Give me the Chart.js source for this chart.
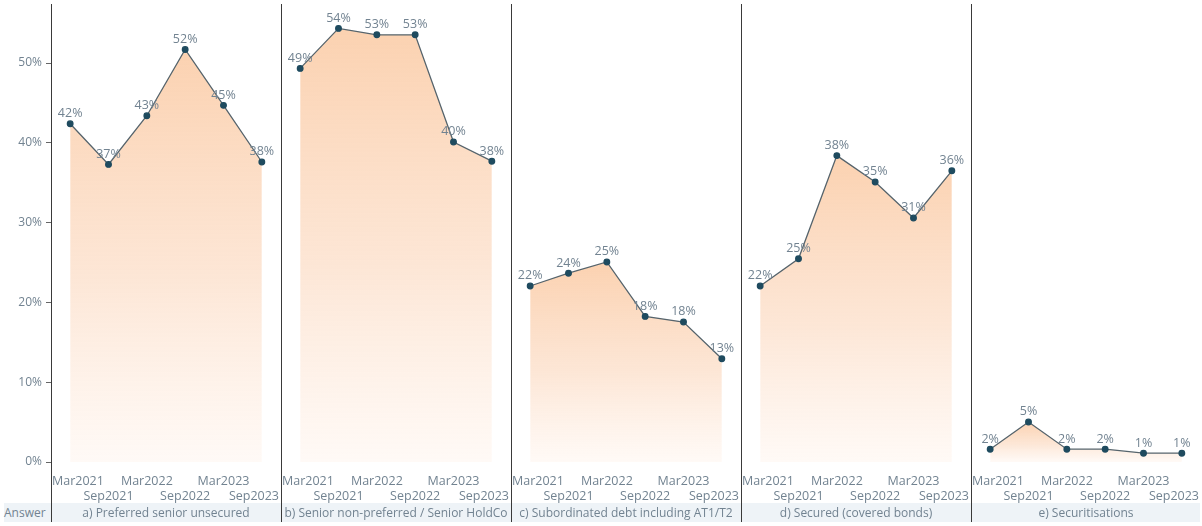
<!DOCTYPE html>
<html>
<head>
<meta charset="utf-8">
<script src="https://cdn.jsdelivr.net/npm/chart.js@4/dist/chart.umd.min.js"></script>
<style>
  body { margin: 0; background: #fff; width: 1202px; height: 526px; overflow: hidden; font-family: "Open Sans", sans-serif; }
  .wrap { position: relative; width: 1202px; height: 526px; }
  .panel { position: absolute; top: 0; height: 504px; }
  .vline { position: absolute; top: 4px; height: 518px; width: 1px; background: #3a3a3a; }
  .band { position: absolute; left: 4px; top: 503px; width: 1196px; height: 19px; background: #eef3f7; }
  .title { position: absolute; top: 503px; height: 19px; line-height: 19px; text-align: center; font-size: 12px; color: #728391; }
</style>
</head>
<body>
<div class="wrap" id="wrap">
  <div class="band"></div>
  <div class="title" style="left:4px;width:46px;text-align:left;">Answer</div>
</div>
<script>
let id = (x) => document.getElementById(x);

// ------- DATA -------
let periods = ["Mar2021", "Sep2021", "Mar2022", "Sep2022", "Mar2023", "Sep2023"];
let panelTitles = [
  "a) Preferred senior unsecured",
  "b) Senior non-preferred / Senior HoldCo",
  "c) Subordinated debt including AT1/T2",
  "d) Secured (covered bonds)",
  "e) Securitisations"
];
let preferredSenior = [42.4, 37.3, 43.4, 51.7, 44.7, 37.6];
let seniorNonPreferred = [49.2, 54.2, 53.4, 53.4, 40.0, 37.6];
let subordinated = [22.0, 23.6, 25.0, 18.2, 17.5, 12.9];
let secured = [22.0, 25.4, 38.3, 35.0, 30.5, 36.4];
let securitisations = [1.6, 5.0, 1.6, 1.6, 1.1, 1.1];
let yTicks = [0, 10, 20, 30, 40, 50];

let seriesList = [preferredSenior, seniorNonPreferred, subordinated, secured, securitisations];

// ------- LAYOUT -------
let axisWidth = 51;
let panelWidth = 230;
let lineXs = [51, 281, 511, 741, 971];
let wrap = id("wrap");
let textColor = "#728391";

lineXs.forEach(function(x){
  let d = document.createElement("div");
  d.className = "vline";
  d.style.left = x + "px";
  wrap.appendChild(d);
});

// point value labels + alternating period labels, clamped inside the panel
const labelPlugin = {
  id: "labelPlugin",
  afterDatasetsDraw(chart) {
    const ctx = chart.ctx;
    const area = chart.chartArea;
    const meta = chart.getDatasetMeta(0);
    const xs = chart.scales.x;
    ctx.save();
    ctx.font = "12.5px 'Open Sans'";
    ctx.fillStyle = textColor;
    ctx.textAlign = "center";
    ctx.textBaseline = "bottom";
    meta.data.forEach(function(pt, i){
      const v = chart.data.datasets[0].data[i];
      ctx.fillText(Math.round(v) + "%", pt.x, pt.y - 4);
    });
    ctx.textBaseline = "middle";
    chart.data.labels.forEach(function(lab, i){
      let x = xs.getPixelForValue(i);
      const w = ctx.measureText(lab).width;
      if (x - w / 2 < area.left + 1) x = area.left + 1 + w / 2;
      if (x + w / 2 > area.right - 2) x = area.right - 2 - w / 2;
      const y = area.bottom + (i % 2 === 0 ? 19 : 34);
      ctx.fillText(lab, x, y);
    });
    ctx.restore();
  }
};

function peachFill(context) {
  const chart = context.chart;
  const area = chart.chartArea;
  if (!area) return "#fbd3b4";
  const ys = chart.scales.y;
  const data = chart.data.datasets[0].data;
  const top = ys.getPixelForValue(Math.max(...data));
  const g = chart.ctx.createLinearGradient(0, top, 0, ys.getPixelForValue(0));
  g.addColorStop(0, "rgba(251,207,172,0.95)");
  g.addColorStop(0.55, "rgba(252,222,200,0.75)");
  g.addColorStop(1, "rgba(255,246,240,0.6)");
  return g;
}

seriesList.forEach(function(values, p){
  const left = p === 0 ? 0 : lineXs[p];
  const width = p === 0 ? axisWidth + panelWidth : panelWidth;
  const holder = document.createElement("div");
  holder.className = "panel";
  holder.style.left = left + "px";
  holder.style.width = width + "px";
  const cv = document.createElement("canvas");
  holder.appendChild(cv);
  wrap.appendChild(holder);

  const t = document.createElement("div");
  t.className = "title";
  t.style.left = lineXs[p] + "px";
  t.style.width = panelWidth + "px";
  t.textContent = panelTitles[p];
  wrap.appendChild(t);

  new Chart(cv, {
    type: "line",
    data: {
      labels: periods,
      datasets: [{
        data: values,
        borderColor: "#56646c",
        borderWidth: 1.3,
        pointBackgroundColor: "#1f4b5f",
        pointBorderColor: "#1f4b5f",
        pointRadius: 2.8,
        fill: "origin",
        backgroundColor: peachFill,
        tension: 0
      }]
    },
    options: {
      responsive: true,
      maintainAspectRatio: false,
      animation: false,
      layout: { autoPadding: false, padding: { top: 10, bottom: 42, left: 0, right: 0 } },
      plugins: { legend: { display: false }, tooltip: { enabled: false } },
      scales: {
        x: {
          display: false,
          offset: true
        },
        y: {
          display: p === 0,
          min: 0,
          max: 56.5,
          afterBuildTicks: (scale) => { scale.ticks = yTicks.map(v => ({ value: v })); },
          afterFit: (scale) => { if (p === 0) scale.width = axisWidth; },
          border: { display: false },
          grid: { drawOnChartArea: false, drawTicks: true, tickLength: 5, color: "#666" },
          ticks: {
            color: textColor,
            padding: 4,
            font: { family: "Open Sans", size: 12 },
            callback: (v) => v + "%"
          }
        }
      }
    },
    plugins: [labelPlugin]
  });
});
</script>
</body>
</html>
